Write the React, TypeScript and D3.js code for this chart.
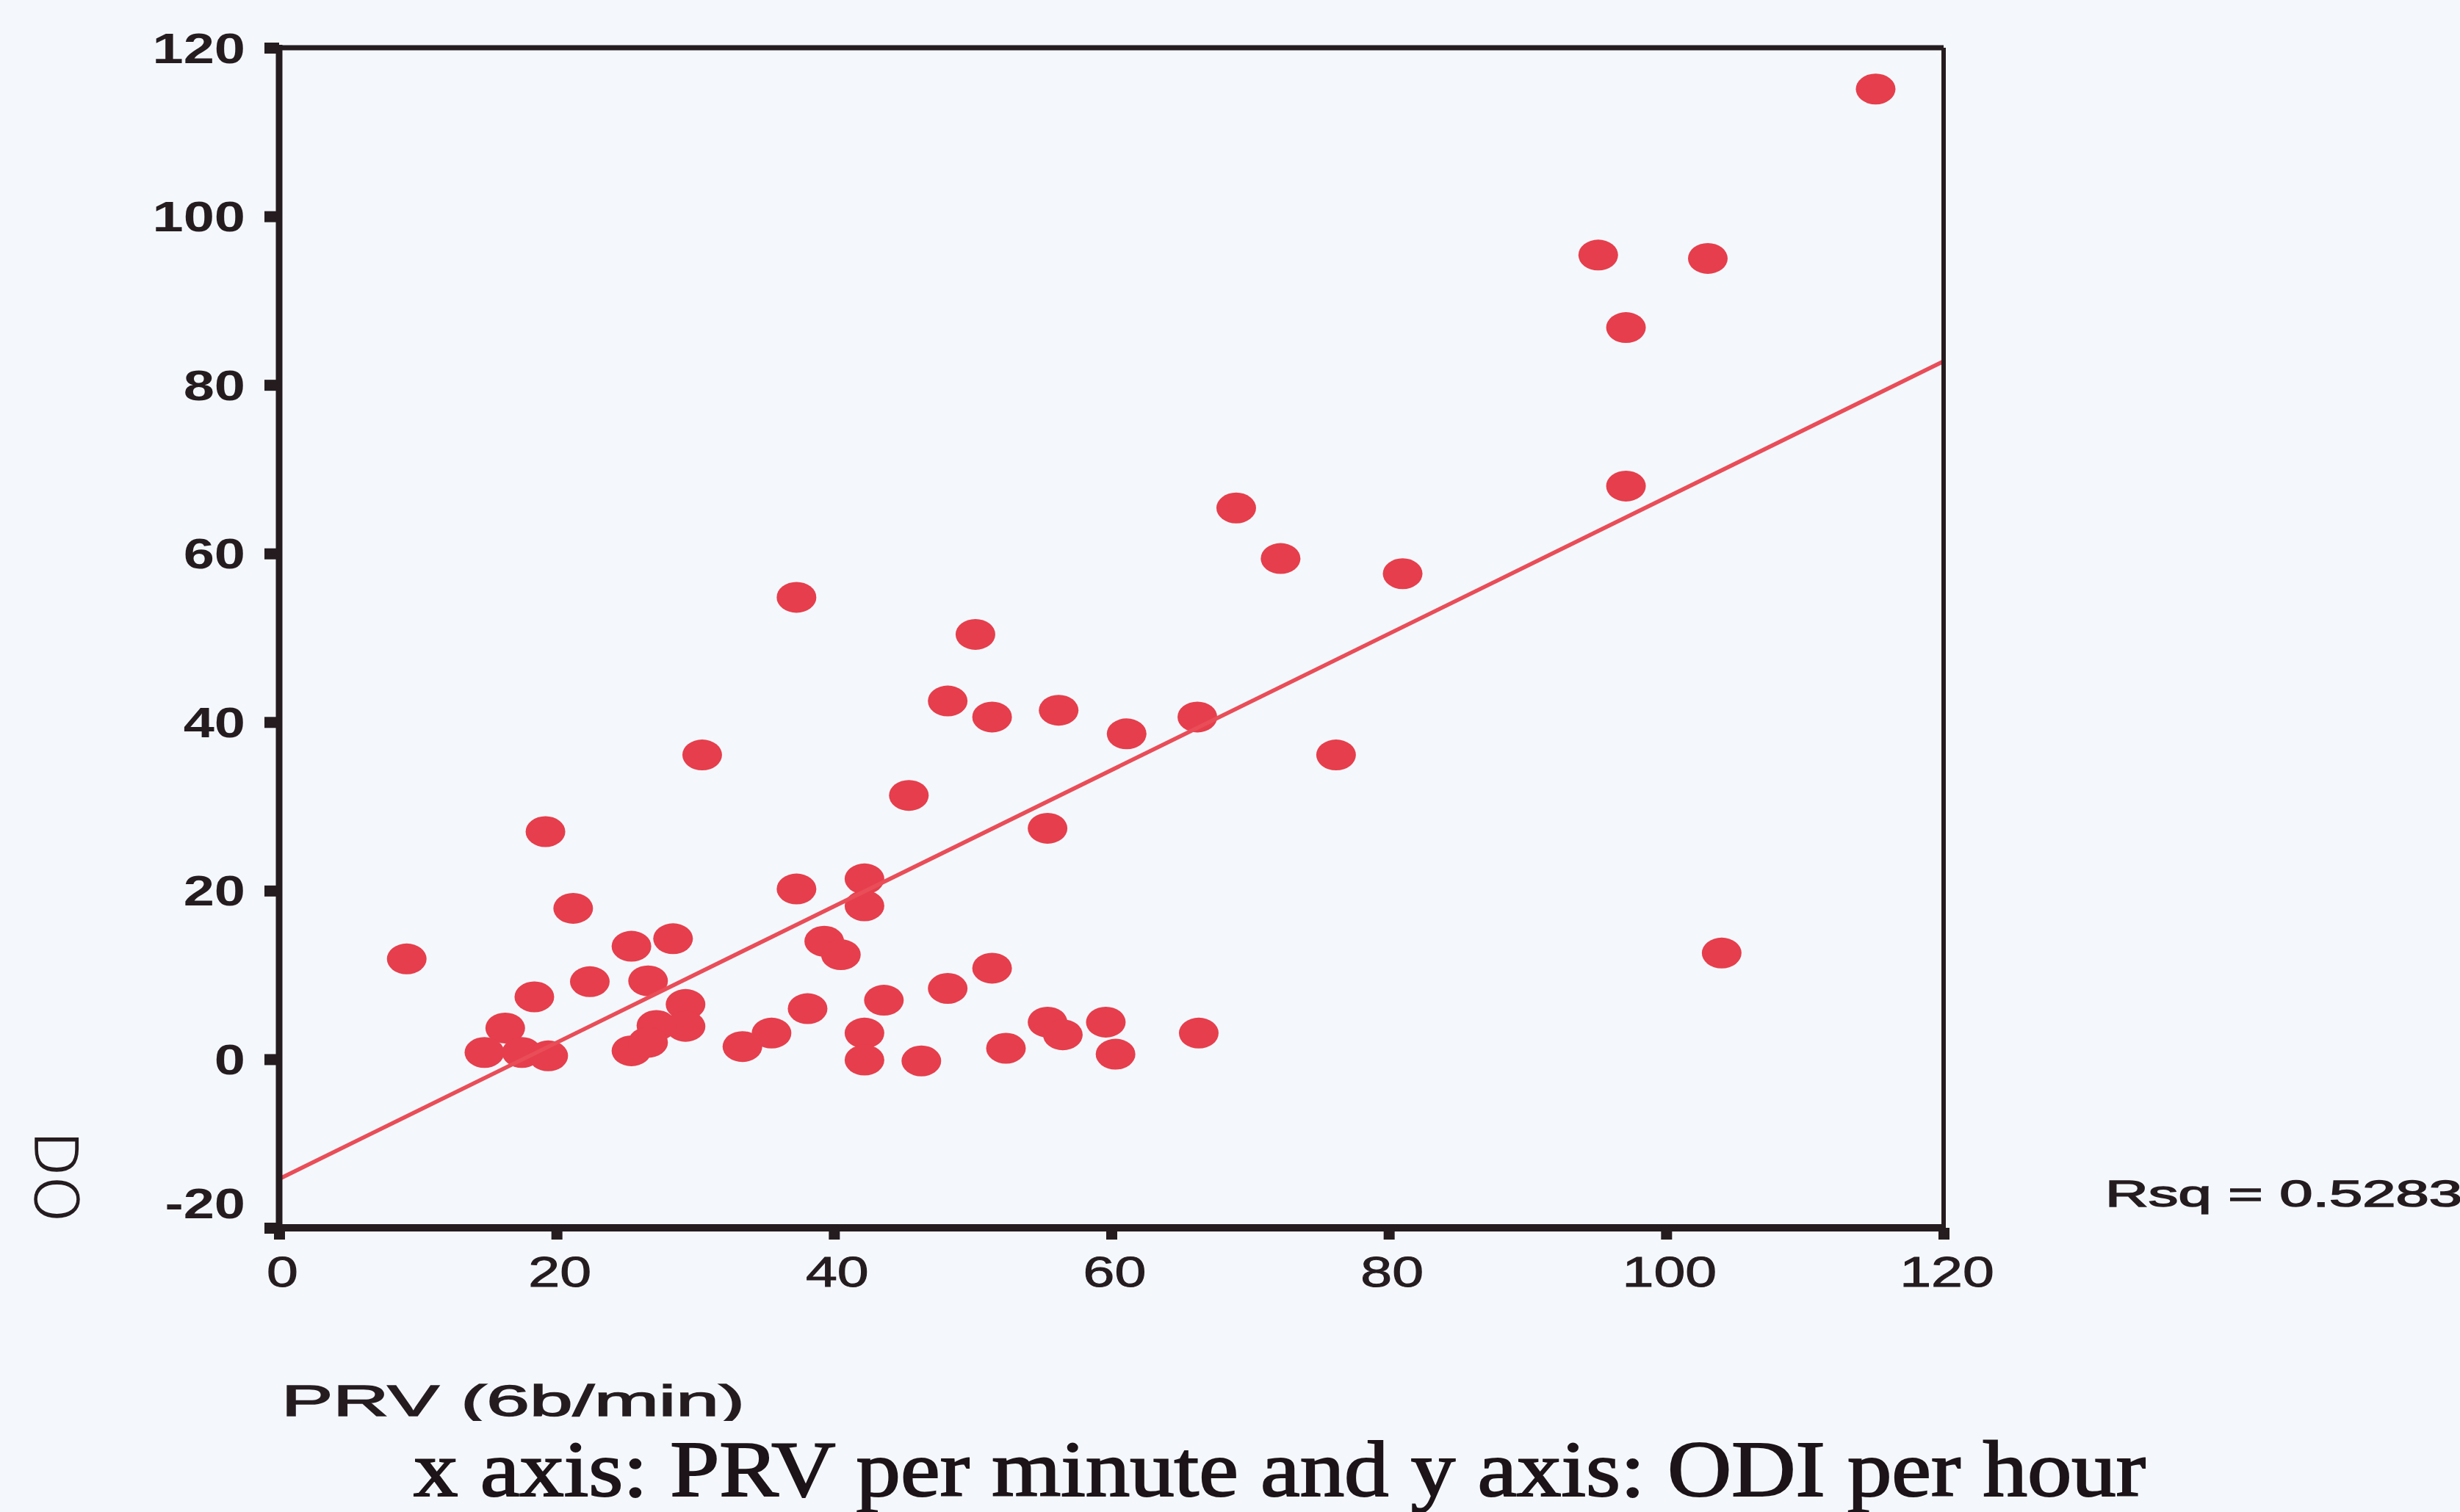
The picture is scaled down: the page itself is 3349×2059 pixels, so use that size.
import React, { useEffect, useRef } from 'react';
import * as d3 from 'd3';

// PRV per minute (x) and ODI per hour (y)
const prvValues = [
  115.1, 95.1, 103.0, 97.1, 97.1, 69.0, 72.2, 81.0, 37.3, 50.2,
  48.2, 51.4, 56.2, 61.1, 66.2, 30.5, 76.2, 45.4, 55.4, 19.2,
  42.2, 42.2, 37.3, 21.2, 9.2, 104.0, 28.4, 25.4, 39.3, 40.5,
  51.4, 22.4, 26.6, 48.2, 18.4, 43.6, 29.3, 38.1, 29.3, 27.2,
  16.3, 35.5, 55.4, 56.5, 59.6, 66.3, 42.2, 33.4, 52.4, 14.8,
  17.5, 19.4, 25.4, 26.6, 42.2, 46.3, 60.3,
];
const odiValues = [
  115.1, 95.4, 95.0, 86.8, 68.0, 65.4, 59.4, 57.6, 54.8, 50.4,
  42.5, 40.6, 41.4, 38.6, 40.6, 36.1, 36.1, 31.3, 27.4, 27.0,
  21.4, 18.2, 20.2, 17.9, 11.9, 12.6, 14.3, 13.4, 14.0, 12.4,
  10.8, 9.2, 9.3, 8.4, 7.4, 7.0, 6.5, 6.0, 3.9, 4.0,
  3.7, 3.1, 4.4, 2.9, 4.4, 3.1, 3.1, 1.5, 1.3, 0.8,
  0.8, 0.4, 1.0, 2.0, -0.1, -0.2, 0.6,
];

// linear fit drawn across the plot (end points)
const fitPrv = [0, 120];
const fitOdi = [-14.2, 82.8];

const xTicks = [0, 20, 40, 60, 80, 100, 120];
const yTicks = [-20, 0, 20, 40, 60, 80, 100, 120];

const rsqLabel = 'Rsq = 0.5283';
const xTitle = 'PRV (6b/min)';
const yTitle = 'DO';
const caption = 'x axis: PRV per minute and y axis: ODI per hour';

const W = 3349, H = 2059;
const bg = '#f4f8fc';
const ink = '#251c20';
const dotColor = '#e63e4c';
const lineColor = '#e94d58';
const sans = '"Liberation Sans", Arial, Helvetica, sans-serif';

const App = () => {
  const ref = useRef(null);

  useEffect(() => {
    const svg = d3.select(ref.current);
    svg.selectAll('*').remove();

    const x = d3.scaleLinear().domain([0, 120]).range([380, 2646]);
    const y = d3.scaleLinear().domain([-20, 120]).range([1672, 65]);

    svg.append('rect').attr('width', W).attr('height', H).attr('fill', bg);

    // points
    const pts = prvValues.map((p, i) => ({ p, o: odiValues[i] }));
    svg.append('g')
      .selectAll('ellipse')
      .data(pts)
      .enter()
      .append('ellipse')
      .attr('cx', d => x(d.p))
      .attr('cy', d => y(d.o))
      .attr('rx', 27)
      .attr('ry', 21)
      .attr('fill', dotColor);

    // fit line
    const line = d3.line<number>()
      .x((d, i) => x(fitPrv[i]))
      .y(d => y(d));
    svg.append('path')
      .attr('d', line(fitOdi))
      .attr('fill', 'none')
      .attr('stroke', lineColor)
      .attr('stroke-width', 5.5);

    // frame
    const frame = svg.append('g').attr('stroke', ink);
    frame.append('line').attr('x1', x(0)).attr('x2', x(120)).attr('y1', y(120)).attr('y2', y(120)).attr('stroke-width', 7);
    frame.append('line').attr('x1', x(120)).attr('x2', x(120)).attr('y1', y(120)).attr('y2', y(-20)).attr('stroke-width', 6);
    frame.append('line').attr('x1', x(0)).attr('x2', x(0)).attr('y1', y(120) - 4).attr('y2', y(-20)).attr('stroke-width', 9);
    frame.append('line').attr('x1', x(0)).attr('x2', x(120)).attr('y1', y(-20)).attr('y2', y(-20)).attr('stroke-width', 10);

    // y axis
    const yAxis = svg.append('g')
      .attr('transform', `translate(${x(0)},0)`)
      .call(d3.axisLeft(y).tickValues(yTicks).tickSize(20).tickFormat(d => String(d)));
    yAxis.select('.domain').remove();
    yAxis.attr('font-family', sans).attr('font-size', 57).attr('font-weight', 'bold');
    yAxis.selectAll('.tick line').attr('stroke', ink).attr('stroke-width', 15);
    yAxis.selectAll('.tick text')
      .attr('x', 0)
      .attr('dy', 0)
      .attr('fill', ink)
      .attr('text-anchor', 'end')
      .attr('transform', d => `translate(-46,${d === -20 ? -14 : 20}) scale(1.33,1)`);

    // x axis
    const xAxis = svg.append('g')
      .attr('transform', `translate(0,${y(-20)})`)
      .call(d3.axisBottom(x).tickValues(xTicks).tickSize(16).tickFormat(d => String(d)));
    xAxis.select('.domain').remove();
    xAxis.attr('font-family', sans).attr('font-size', 58);
    xAxis.selectAll('.tick line').attr('stroke', ink).attr('stroke-width', 15);
    xAxis.selectAll('.tick text')
      .attr('y', 0)
      .attr('dy', 0)
      .attr('fill', ink)
      .attr('stroke', ink)
      .attr('stroke-width', 1)
      .attr('transform', 'translate(4,80) scale(1.33,1)');

    // Rsq note
    svg.append('text')
      .attr('x', 2866).attr('y', 1643)
      .attr('font-family', sans).attr('font-size', 50)
      .attr('textLength', 486).attr('lengthAdjust', 'spacingAndGlyphs')
      .attr('fill', ink)
      .attr('stroke', ink)
      .attr('stroke-width', 1.5)
      .text(rsqLabel);

    // y title (rotated, partly visible in the scan)
    svg.append('text')
      .attr('transform', 'translate(48,1540) rotate(90)')
      .attr('font-family', '"DejaVu Sans", sans-serif').attr('font-weight', 200)
      .attr('font-size', 80)
      .attr('fill', ink)
      .attr('stroke', ink)
      .attr('stroke-width', 1.5)
      .text(yTitle);

    // x title, its lower edge hidden by the caption strip
    svg.append('text')
      .attr('x', 383).attr('y', 1928)
      .attr('font-family', sans).attr('font-size', 60)
      .attr('textLength', 631).attr('lengthAdjust', 'spacingAndGlyphs')
      .attr('fill', ink)
      .attr('stroke', ink)
      .attr('stroke-width', 1.5)
      .text(xTitle);
    svg.append('rect').attr('x', 0).attr('y', 1935).attr('width', W).attr('height', H - 1935).attr('fill', bg);

    // caption
    svg.append('text')
      .attr('x', 563).attr('y', 2037)
      .attr('font-family', '"Liberation Serif", "Times New Roman", serif').attr('font-size', 108)
      .attr('textLength', 2358).attr('lengthAdjust', 'spacingAndGlyphs')
      .attr('fill', '#1c1418')
      .attr('stroke', '#1c1418')
      .attr('stroke-width', 2)
      .text(caption);
  }, []);

  return (
    <div style={{ position: 'absolute', left: 0, top: 0, width: W, height: H, overflow: 'hidden' }}>
      <svg ref={ref} width={W} height={H} style={{ display: 'block' }} />
    </div>
  );
};

export default App;
